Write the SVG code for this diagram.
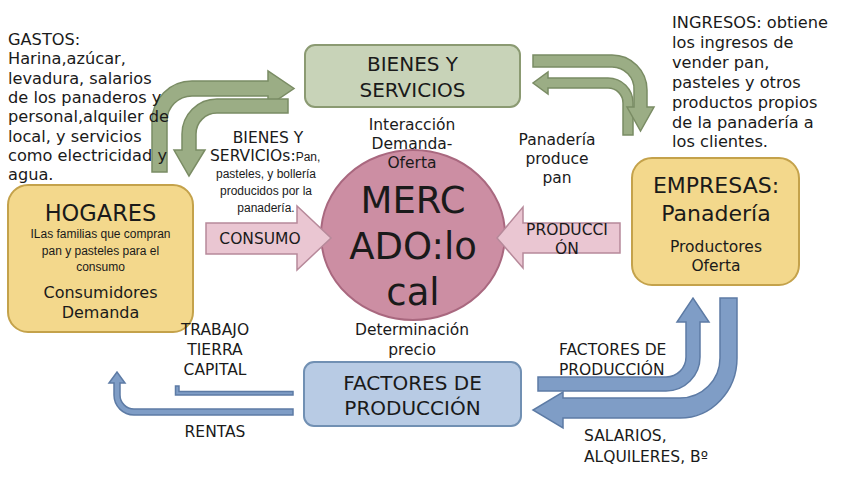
<svg xmlns="http://www.w3.org/2000/svg" width="848" height="477" viewBox="0 0 848 477">
<defs>
<style>
text{font-family:"DejaVu Sans","Liberation Sans",sans-serif;fill:#1a1a1a}
.sm{font-family:"Liberation Sans",Arial,sans-serif;font-size:12px;fill:#1a1a1a}
.lbl{font-size:15.5px;text-anchor:middle}
.blk{font-size:16.2px}
.green{fill:#c8d3b8;stroke:#8b9a72;stroke-width:2}
.garrow{fill:#9bad85;stroke:#7a8c64;stroke-width:1.5}
.yellow{fill:#f3d88c;stroke:#c4a24b;stroke-width:2}
.pink{fill:#cc8ea3;stroke:#a9687f;stroke-width:2}
.parrow{fill:#eac6d2;stroke:#b7899a;stroke-width:1.5}
.blue{fill:#b8cbe4;stroke:#7190b3;stroke-width:2}
.barrow{fill:#7f9dc6;stroke:#5d7ba5;stroke-width:1.5}
</style>
</defs>
<rect width="848" height="477" fill="#ffffff"/>

<g id="connectors">
<path class="garrow" d="M152,172 L152,121 A40,40 0 0 1 192,81 L268,81 L268,71 L294,88.5 L268,106 L268,96 L192,96 A25,25 0 0 0 167,121 L167,172 Z"/>
<path class="garrow" d="M288,99 L217,99 A35,35 0 0 0 182,134 L182,150 L174,150 L189,176 L205,150 L196,150 L196,134 A21,21 0 0 1 217,113 L288,113 Z"/>
<path class="garrow" d="M633,135 L633,103 A25,25 0 0 0 608,78 L548,78 L548,72 L533,83 L548,94 L548,88 L608,88 A15,15 0 0 1 623,103 L623,135 Z"/>
<path class="garrow" d="M533,55 L612,55 A35,35 0 0 1 647,90 L647,107 L654,107 L640.5,131 L627,107 L634,107 L634,90 A22,22 0 0 0 612,67 L533,67 Z"/>
<path class="barrow" d="M538,377 L666,377 A20,20 0 0 0 686,357 L686,322 L677,322 L693,298 L709,322 L700,322 L700,357 A34,34 0 0 1 666,391 L538,391 Z"/>
<path class="barrow" d="M720,298 L737,298 L737,358 A57,60 0 0 1 680,418 L563,418 L563,428 L533,410 L563,392 L563,398 L680,398 A40,40 0 0 0 720,358 Z"/>
<path class="barrow" d="M293,391.5 L179,391.5 L179,386 L175.5,386 L175.5,395 L293,395 Z" stroke-width="0.8"/>
<path class="barrow" d="M293,409 L134,409 A14,14 0 0 1 120,395 L120,383 L125,383 L117,372 L109,383 L114,383 L114,395 A20,20 0 0 0 134,415 L293,415 Z"/>
</g>

<g id="bienes-servicios">
<rect class="green" x="305" y="45" width="215" height="62" rx="10"/>
<text x="412.5" y="71" font-size="20" text-anchor="middle">BIENES Y</text>
<text x="412.5" y="97" font-size="20" text-anchor="middle">SERVICIOS</text>
</g>

<g id="hogares">
<rect class="yellow" x="8" y="185" width="185" height="147" rx="20"/>
<text x="100.5" y="221" font-size="22.5" text-anchor="middle">HOGARES</text>
<text class="sm" x="100.5" y="238" text-anchor="middle">ILas familias que compran</text>
<text class="sm" x="100.5" y="255" text-anchor="middle">pan y pasteles para el</text>
<text class="sm" x="100.5" y="271" text-anchor="middle">consumo</text>
<text x="100.5" y="298" font-size="16" text-anchor="middle">Consumidores</text>
<text x="100.5" y="318" font-size="16" text-anchor="middle">Demanda</text>
</g>

<g id="empresas">
<rect class="yellow" x="632" y="158" width="167" height="127" rx="20"/>
<text x="716" y="193" font-size="22" text-anchor="middle">EMPRESAS:</text>
<text x="716" y="221" font-size="22" text-anchor="middle">Panadería</text>
<text x="716" y="252" font-size="15.5" text-anchor="middle">Productores</text>
<text x="716" y="271" font-size="15.5" text-anchor="middle">Oferta</text>
</g>

<g id="mercado">
<ellipse class="pink" cx="413" cy="235" rx="92" ry="85"/>
<text x="413" y="213" font-size="37" text-anchor="middle">MERC</text>
<text x="413" y="259" font-size="37" text-anchor="middle">ADO:lo</text>
<text x="413" y="305" font-size="37" text-anchor="middle">cal</text>
</g>

<g id="factores-produccion">
<rect class="blue" x="304" y="362" width="217" height="64" rx="10"/>
<text x="412.5" y="390" font-size="20" text-anchor="middle">FACTORES DE</text>
<text x="412.5" y="415" font-size="20" text-anchor="middle">PRODUCCIÓN</text>
</g>

<g id="consumo">
<path class="parrow" d="M206,223 L297,223 L297,206 L331,238 L297,270 L297,254 L206,254 Z"/>
<text class="lbl" x="260" y="244">CONSUMO</text>
</g>

<g id="produccion">
<path class="parrow" d="M620,223 L523,223 L523,207 L497,238 L523,268 L523,253 L620,253 Z"/>
<text class="lbl" x="567" y="235">PRODUCCI</text>
<text class="lbl" x="567" y="254">ÓN</text>
</g>

<g id="labels">
<text class="blk" x="8"><tspan x="8" y="45">GASTOS:</tspan><tspan x="8" y="64">Harina,azúcar,</tspan><tspan x="8" y="84">levadura, salarios</tspan><tspan x="8" y="103">de los panaderos y</tspan><tspan x="8" y="122">personal,alquiler de</tspan><tspan x="8" y="142">local, y servicios</tspan><tspan x="8" y="161">como electricidad y</tspan><tspan x="8" y="180">agua.</tspan></text>
<text class="blk" x="672"><tspan x="672" y="28">INGRESOS: obtiene</tspan><tspan x="672" y="48">los ingresos de</tspan><tspan x="672" y="68">vender pan,</tspan><tspan x="672" y="88">pasteles y otros</tspan><tspan x="672" y="108">productos propios</tspan><tspan x="672" y="128">de la panadería a</tspan><tspan x="672" y="147">los clientes.</tspan></text>
<text class="lbl" x="268" y="143">BIENES Y</text>
<text x="210" y="161" font-size="15.5">SERVICIOs:<tspan class="sm">Pan,</tspan></text>
<text class="sm" x="266" y="178" text-anchor="middle">pasteles, y bollería</text>
<text class="sm" x="266" y="195" text-anchor="middle">producidos por la</text>
<text class="sm" x="266" y="212" text-anchor="middle">panadería.</text>
<text class="lbl" x="412" y="130">Interacción</text>
<text class="lbl" x="412" y="149">Demanda-</text>
<text class="lbl" x="412" y="168">Oferta</text>
<text class="lbl" x="557" y="145">Panadería</text>
<text class="lbl" x="557" y="164">produce</text>
<text class="lbl" x="557" y="183">pan</text>
<text class="lbl" x="412" y="335">Determinación</text>
<text class="lbl" x="412" y="355">precio</text>
<text class="lbl" x="215" y="335">TRABAJO</text>
<text class="lbl" x="215" y="355">TIERRA</text>
<text class="lbl" x="215" y="375">CAPITAL</text>
<text class="lbl" x="215" y="437">RENTAS</text>
<text x="559" y="355" font-size="15.5">FACTORES DE</text>
<text x="559" y="375" font-size="15.5">PRODUCCIÓN</text>
<text x="584" y="441" font-size="15.5">SALARIOS,</text>
<text x="584" y="462" font-size="15.5">ALQUILERES, Bº</text>
</g>
</svg>
